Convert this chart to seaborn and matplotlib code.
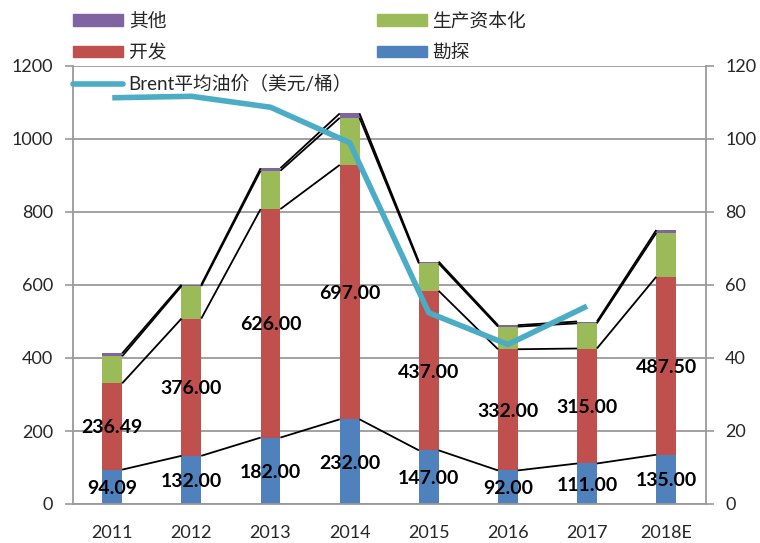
import matplotlib
matplotlib.use('Agg')
import matplotlib.pyplot as plt
import seaborn as sns
import numpy as np
import pandas as pd
from matplotlib.patches import Patch
from matplotlib.lines import Line2D

years = ['2011', '2012', '2013', '2014', '2015', '2016', '2017', '2018E']
exploration = [94.09, 132.00, 182.00, 232.00, 147.00, 92.00, 111.00, 135.00]
development = [236.49, 376.00, 626.00, 697.00, 437.00, 332.00, 315.00, 487.50]
capitalized = [74, 89, 105, 129, 75, 62, 69, 120]
other = [8, 4, 7, 12, 5, 4, 5, 8]
brent_years = ['2011', '2012', '2013', '2014', '2015', '2016', '2017']
brent = [111.3, 111.7, 108.7, 99.0, 52.4, 43.7, 54.2]

names = ['勘探', '开发', '生产资本化', '其他']
colors = ['#4F81BD', '#C0504D', '#9BBB59', '#8064A2']
brent_label = 'Brent平均油价（美元/桶）'
brent_color = '#4BACC6'

sns.set_theme(style='white')
plt.rcParams['font.family'] = ['Lato', 'Noto Sans CJK SC', 'DejaVu Sans']

fig = plt.figure(figsize=(7.6, 5.43), dpi=100)
ax = fig.add_axes([72.7 / 760, 1 - 504 / 543, (705.7 - 72.7) / 760, (504 - 66) / 543])

layers = [exploration, development, capitalized, other]
cum = np.cumsum(np.array(layers, dtype=float), axis=0)
bw = 0.25

# draw from the tallest cumulative down (stacked)
for k in range(len(layers) - 1, -1, -1):
    sns.barplot(x=years, y=cum[k], color=colors[k], width=bw, saturation=1,
                linewidth=0, ax=ax, zorder=2)

# series lines connecting segment tops
for k in range(len(layers)):
    for i in range(len(years) - 1):
        ax.plot([i + bw / 2, i + 1 - bw / 2], [cum[k][i], cum[k][i + 1]],
                color='black', lw=1.3, zorder=3, solid_capstyle='butt')

# data labels for exploration and development
for k in range(2):
    bottoms = cum[k] - np.array(layers[k])
    for i, v in enumerate(layers[k]):
        ax.text(i, bottoms[i] + v / 2, f'{v:.2f}', ha='center', va='center_baseline',
                fontsize=14, fontweight='bold', color='black', zorder=5)

grid_c = '#9a9a9a'
ax.set_xlim(-0.5, len(years) - 0.5)
ax.set_ylim(0, 1200)
ax.set_yticks(np.arange(0, 1201, 200))
ax.yaxis.grid(True, color=grid_c, lw=1.3)
ax.set_axisbelow(True)
ax.set_xlabel('')
ax.set_ylabel('')
ax.tick_params(axis='y', direction='out', length=6, width=1.2, color=grid_c,
               labelsize=13, pad=8, left=True)
ax.tick_params(axis='x', length=0, labelsize=13, pad=15)
for s in ['left', 'bottom']:
    ax.spines[s].set_color(grid_c)
    ax.spines[s].set_linewidth(1.3)
ax.spines['top'].set_visible(False)
ax.spines['right'].set_visible(False)

ax2 = ax.twinx()
bdf = pd.DataFrame({'pos': np.arange(len(brent_years)), 'brent': brent})
sns.lineplot(data=bdf, x='pos', y='brent', color=brent_color, lw=4, ax=ax2,
             solid_capstyle='butt')
ax2.set_ylim(0, 120)
ax2.set_yticks(np.arange(0, 121, 20))
ax2.set_xlim(-0.5, len(years) - 0.5)
ax2.set_ylabel('')
ax2.set_xlabel('')
ax2.grid(False)
ax2.tick_params(axis='y', direction='out', length=6, width=1.2, color=grid_c,
                labelsize=13, pad=8, right=True)
for s in ['left', 'top', 'bottom']:
    ax2.spines[s].set_visible(False)
ax2.spines['right'].set_color(grid_c)
ax2.spines['right'].set_linewidth(1.3)

handles = [Patch(color=colors[3]), Patch(color=colors[1]),
           Line2D([0], [0], color=brent_color, lw=4),
           Patch(color=colors[2]), Patch(color=colors[0])]
labels = [names[3], names[1], brent_label, names[2], names[0]]
fig.legend(handles, labels, loc='upper left', bbox_to_anchor=(73 / 760, 1 - 12 / 543),
           ncol=2, frameon=False, borderpad=0, borderaxespad=0,
           handlelength=2.67, handleheight=0.6, handletextpad=0.3,
           labelspacing=0.76, columnspacing=1.3,
           prop={'family': ['Lato', 'Noto Sans CJK SC'], 'size': 13.5})

fig.savefig('out.png', dpi=100)
